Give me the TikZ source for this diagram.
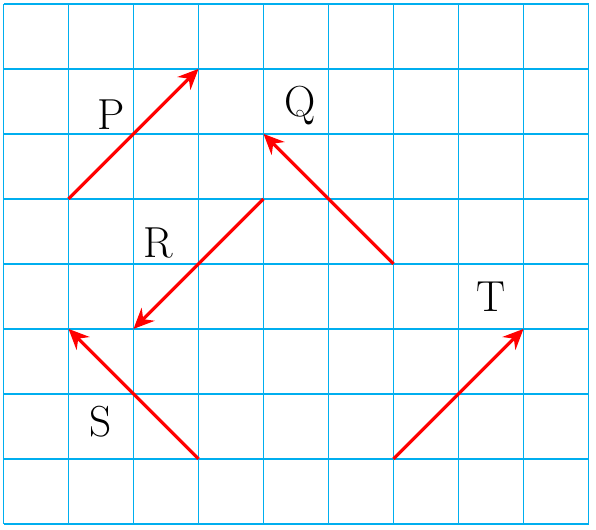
\documentclass[tikz,border=0pt]{standalone}
\usetikzlibrary{arrows.meta}
\definecolor{gridblue}{RGB}{0,174,239}
\begin{document}
\begin{tikzpicture}[x=1cm,y=1cm,
  gridline/.style={gridblue,line width=0.85pt},
  vec/.style={red,line width=1.4pt,-{Stealth[length=9pt,width=8pt,inset=3pt]}},
  lbl/.style={font=\fontsize{19}{23}\selectfont,inner sep=0pt}]
\useasboundingbox (-0.054,-0.092) rectangle (9.115,8.06);
\draw[gridline] (0,0) grid (9,8);
\coordinate (p1) at (1,5); \coordinate (p2) at (3,7);
\coordinate (q1) at (6,4); \coordinate (q2) at (4,6);
\coordinate (r1) at (4,5); \coordinate (r2) at (2,3);
\coordinate (s1) at (3,1); \coordinate (s2) at (1,3);
\coordinate (t1) at (6,1); \coordinate (t2) at (8,3);
\draw[vec] (p1) -- (p2);
\draw[vec] (q1) -- (q2);
\draw[vec] (r1) -- (r2);
\draw[vec] (s1) -- (s2);
\draw[vec] (t1) -- (t2);
\node[lbl] (P) at (1.66,6.3) {P};
\node[lbl] (Q) at (4.57,6.43) {Q};
\node[lbl] (R) at (2.38,4.32) {R};
\node[lbl] (S) at (1.5,1.57) {S};
\node[lbl] (T) at (7.5,3.49) {T};
\end{tikzpicture}
\end{document}
